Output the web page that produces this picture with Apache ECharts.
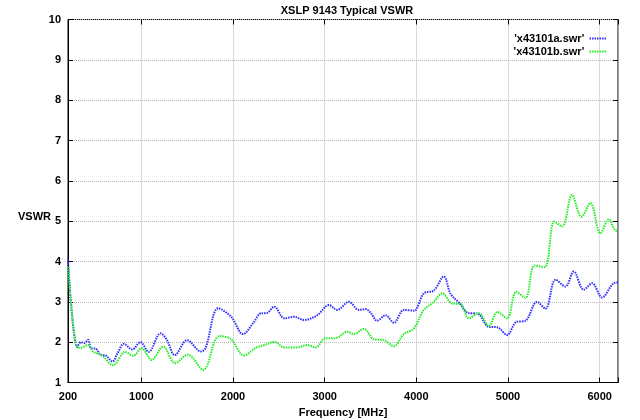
<!DOCTYPE html>
<html>
<head>
<meta charset="utf-8">
<script src="https://cdn.jsdelivr.net/npm/echarts@6/dist/echarts.min.js"></script>
<style>html,body{margin:0;padding:0;background:#fff;}#c{width:640px;height:420px;}</style>
</head>
<body>
<div id="c"></div>
<script>
const titleText = "XSLP 9143 Typical VSWR";
const xName = "Frequency [MHz]";
const yName = "VSWR";
const seriesNames = ["'x43101a.swr'", "'x43101b.swr'"];
const xTicks = [200, 1000, 2000, 3000, 4000, 5000, 6000];

const freqA = [200,300,340,380,420,450,500,560,610,685,740,810,900,990,1080,1210,1280,1365,1500,1650,1700,1840,1980,2110,2220,2310,2364,2450,2560,2666,2775,2920,3046,3137,3264,3373,3446,3501,3573,3664,3755,3864,3973,4082,4191,4300,4373,4470,4572,4665,4790,4881,4990,5090,5190,5317,5408,5520,5626,5717,5826,5917,6026,6152,6200];
const vswrA = [4.05,1.88,2.0,1.98,2.06,1.85,1.84,1.68,1.67,1.52,1.72,1.96,1.82,2.0,1.76,2.22,2.05,1.68,2.05,1.77,1.85,2.84,2.63,2.2,2.47,2.72,2.72,2.88,2.59,2.63,2.55,2.67,2.92,2.8,3.0,2.8,2.82,2.73,2.53,2.67,2.48,2.8,2.78,3.21,3.28,3.63,3.2,2.97,2.72,2.71,2.38,2.37,2.18,2.5,2.53,3.0,2.83,3.55,3.38,3.75,3.3,3.46,3.11,3.46,3.48];

const freqB = [200,295,340,420,476,567,693,823,911,1003,1112,1238,1370,1508,1674,1850,1975,2120,2256,2346,2450,2557,2701,2810,2901,3010,3119,3246,3319,3428,3537,3646,3755,3864,3973,4082,4191,4282,4391,4481,4572,4681,4790,4886,4990,5090,5190,5290,5400,5505,5590,5699,5801,5899,6008,6099,6165,6200];
const vswrB = [3.87,1.88,1.86,1.93,1.76,1.68,1.43,1.76,1.66,1.85,1.56,1.89,1.48,1.69,1.31,2.15,2.08,1.67,1.87,1.93,2.01,1.87,1.87,1.93,1.87,2.1,2.1,2.26,2.2,2.33,2.07,2.05,1.9,2.2,2.34,2.8,3.0,3.21,2.96,2.95,2.59,2.72,2.4,2.75,2.59,3.25,3.1,3.9,3.86,4.99,4.87,5.65,5.11,5.45,4.7,5.05,4.78,4.75];

const pairs = (xs, ys) => xs.map((x, i) => [x, ys[i]]);
const FONT = "Liberation Sans";
const bold = {fontFamily: FONT, fontWeight: 'bold', fontSize: 11, color: '#000'};

// dotted legend sample icon (7 small dashes)
let dotPath = 'path://';
for (let i = 0; i < 7; i++) dotPath += 'M' + (i * 2.5) + ' 0h1.5v2h-1.5z';

const chart = echarts.init(document.getElementById('c'), null, {renderer: 'canvas'});
chart.setOption({
  animation: false,
  backgroundColor: '#fff',
  title: {text: titleText, left: 342, textAlign: 'center', top: 0,
    textStyle: {fontFamily: FONT, fontWeight: 'bold', fontSize: 11, color: '#000'}},
  grid: {left: 68, right: 22, top: 19.5, bottom: 37.5, outerBoundsMode: 'none', containLabel: false,
    show: true, borderColor: '#000', borderWidth: 1},
  legend: {orient: 'vertical', right: 29, top: 28, align: 'right', itemWidth: 17, itemHeight: 2, itemGap: 2,
    icon: dotPath, textStyle: bold, data: seriesNames},
  graphic: [{type: 'text', left: 18, top: 211, style: {text: yName, font: "bold 11px 'Liberation Sans'", fill: '#000'}}],
  xAxis: [{
    type: 'value', min: 200, max: 6200,
    name: xName, nameLocation: 'middle', nameGap: 22, nameTextStyle: bold,
    axisLine: {show: true, lineStyle: {color: '#000'}},
    axisTick: {inside: true, length: 5, lineStyle: {color: '#000'}},
    axisLabel: {...bold, margin: 9, formatter: v => xTicks.includes(v) ? String(v) : ''},
    splitLine: {show: true, lineStyle: {color: '#b8b8b8', type: [1, 1], width: 1}}
  }, {
    type: 'value', min: 200, max: 6200, position: 'top',
    axisLine: {show: false}, axisTick: {inside: true, length: 5, lineStyle: {color: '#000'}},
    axisLabel: {show: false}, splitLine: {show: false}
  }],
  yAxis: [{
    type: 'value', min: 1, max: 10, interval: 1,
    axisLine: {show: true, lineStyle: {color: '#000'}},
    axisTick: {inside: true, length: 5, lineStyle: {color: '#000'}},
    axisLabel: {...bold, margin: 7},
    splitLine: {show: true, lineStyle: {color: '#b8b8b8', type: [1, 1], width: 1}}
  }, {
    type: 'value', min: 1, max: 10, interval: 1, position: 'right',
    axisLine: {show: false}, axisTick: {inside: true, length: 5, lineStyle: {color: '#000'}},
    axisLabel: {show: false}, splitLine: {show: false}
  }],
  series: [{
    name: seriesNames[0], type: 'line', data: pairs(freqA, vswrA), smooth: 0.35,
    showSymbol: false, symbol: 'none', color: '#3030ff',
    lineStyle: {color: '#3030ff', width: 2, type: [1.5, 1]}
  }, {
    name: seriesNames[1], type: 'line', data: pairs(freqB, vswrB), smooth: 0.35,
    showSymbol: false, symbol: 'none', color: '#22ee22',
    lineStyle: {color: '#22ee22', width: 2, type: [1.5, 1]}
  }]
});
</script>
</body>
</html>
